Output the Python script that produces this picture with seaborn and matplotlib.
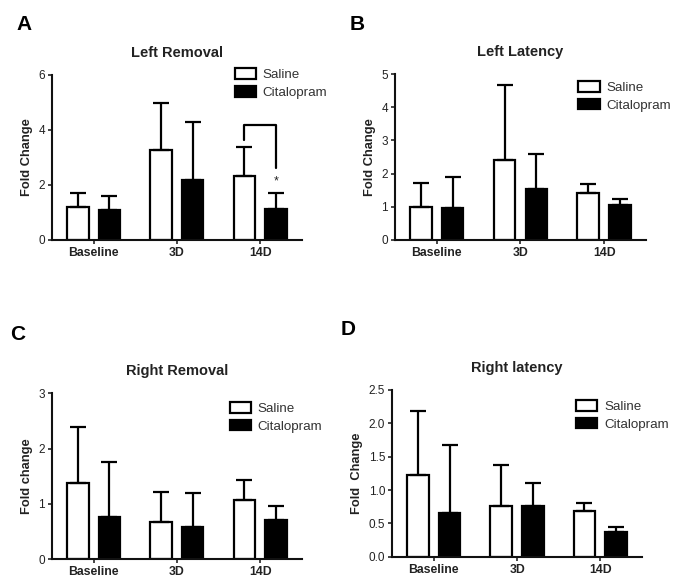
import numpy as np
import pandas as pd
import matplotlib
matplotlib.use("Agg")
import matplotlib.pyplot as plt
from matplotlib.patches import Patch
import seaborn as sns

# group labels and treatments
groups = ["Baseline", "3D", "14D"]
treatments = ["Saline", "Citalopram"]

# bar heights (mean fold change) and upper error (SD)
left_removal_saline = [1.19, 3.25, 2.33]
left_removal_saline_sd = [0.53, 1.73, 1.06]
left_removal_cital = [1.07, 2.18, 1.12]
left_removal_cital_sd = [0.53, 2.09, 0.60]

left_latency_saline = [0.98, 2.41, 1.42]
left_latency_saline_sd = [0.75, 2.26, 0.26]
left_latency_cital = [0.96, 1.53, 1.05]
left_latency_cital_sd = [0.95, 1.06, 0.18]

right_removal_saline = [1.37, 0.68, 1.07]
right_removal_saline_sd = [1.03, 0.54, 0.36]
right_removal_cital = [0.77, 0.59, 0.70]
right_removal_cital_sd = [0.99, 0.61, 0.26]

right_latency_saline = [1.23, 0.76, 0.69]
right_latency_saline_sd = [0.96, 0.61, 0.11]
right_latency_cital = [0.66, 0.76, 0.375]
right_latency_cital_sd = [1.01, 0.34, 0.075]

panels = [
    ("A", "Left Removal", "Fold Change", left_removal_saline, left_removal_saline_sd,
     left_removal_cital, left_removal_cital_sd, [0, 2, 4, 6], "{:.0f}"),
    ("B", "Left Latency", "Fold Change", left_latency_saline, left_latency_saline_sd,
     left_latency_cital, left_latency_cital_sd, [0, 1, 2, 3, 4, 5], "{:.0f}"),
    ("C", "Right Removal", "Fold change", right_removal_saline, right_removal_saline_sd,
     right_removal_cital, right_removal_cital_sd, [0, 1, 2, 3], "{:.0f}"),
    ("D", "Right latency", "Fold  Change", right_latency_saline, right_latency_saline_sd,
     right_latency_cital, right_latency_cital_sd, [0, 0.5, 1.0, 1.5, 2.0, 2.5], "{:.1f}"),
]

sns.set_style("ticks")
plt.rcParams["font.family"] = ["Liberation Sans", "DejaVu Sans"]
txt = "#222222"

fig = plt.figure(figsize=(6.75, 5.88), dpi=100)
# axes boxes [left, bottom, width, height] in figure fractions
boxes = [
    [0.077, 0.592, 0.370, 0.281],
    [0.585, 0.592, 0.372, 0.282],
    [0.077, 0.049, 0.370, 0.282],
    [0.581, 0.053, 0.370, 0.284],
]
letter_pos = [(0.025, 0.975), (0.518, 0.975), (0.015, 0.448), (0.505, 0.455)]
legend_anchor = [(0.71, 1.07), (0.71, 0.99), (0.69, 0.98), (0.715, 0.97)]

palette = {"Saline": "white", "Citalopram": "black"}

for i, (letter, title, ylab, sal, sal_sd, cit, cit_sd, yt, fmt) in enumerate(panels):
    ax = fig.add_axes(boxes[i])
    df = pd.DataFrame({
        "group": groups * 2,
        "treatment": ["Saline"] * 3 + ["Citalopram"] * 3,
        "value": sal + cit,
    })
    sns.barplot(data=df, x="group", y="value", hue="treatment", order=groups,
                hue_order=treatments, palette=palette, edgecolor="black",
                linewidth=1.6, width=0.76, gap=0.32, errorbar=None,
                legend=False, ax=ax)

    # upward-only error bars at bar centres
    sds = sal_sd + cit_sd
    vals = sal + cit
    xs = [p.get_x() + p.get_width() / 2 for p in ax.patches[:6]]
    ax.errorbar(xs, vals, yerr=[np.zeros(6), sds], fmt="none", ecolor="black",
                elinewidth=1.6, capsize=5.5, capthick=1.6, zorder=3)

    if letter == "A":
        # significance bracket between 14D bars
        x1, x2 = xs[2], xs[5]
        ax.plot([x1, x1, x2, x2], [3.64, 4.18, 4.18, 2.6], color="black", lw=1.6,
                clip_on=False)
        ax.text(x2, 1.92, "*", ha="center", va="bottom", fontsize=9, color=txt)

    ax.set_xlim(-0.5, 2.5)
    ax.set_ylim(0, yt[-1])
    ax.set_yticks(yt)
    ax.set_yticklabels([fmt.format(v) for v in yt], fontsize=8.5, color=txt)
    ax.set_xticks(range(3))
    ax.set_xticklabels(groups, fontsize=8.8, fontweight="bold", color=txt)
    ax.set_xlabel("")
    ax.set_ylabel(ylab, fontsize=9.3, fontweight="bold", color=txt, labelpad=4)
    ax.set_title(title, fontsize=10.5, fontweight="bold", color=txt, pad=13)
    sns.despine(ax=ax)
    for s in ["left", "bottom"]:
        ax.spines[s].set_linewidth(1.5)
        ax.spines[s].set_color("#111111")
    ax.tick_params(axis="both", direction="out", length=3, width=1.2, pad=2)

    handles = [Patch(facecolor="white", edgecolor="black", linewidth=1.6),
               Patch(facecolor="black", edgecolor="black", linewidth=1.6)]
    leg = ax.legend(handles, treatments, loc="upper left",
                    bbox_to_anchor=legend_anchor[i], frameon=False, fontsize=9.6,
                    handlelength=1.6, handleheight=0.85, handletextpad=0.5,
                    labelspacing=0.35, borderaxespad=0)
    for t in leg.get_texts():
        t.set_color("#333333")

    fig.text(letter_pos[i][0], letter_pos[i][1], letter, fontsize=15,
             fontweight="bold", va="top", ha="left", color="black")

fig.savefig("out.png", dpi=100)
